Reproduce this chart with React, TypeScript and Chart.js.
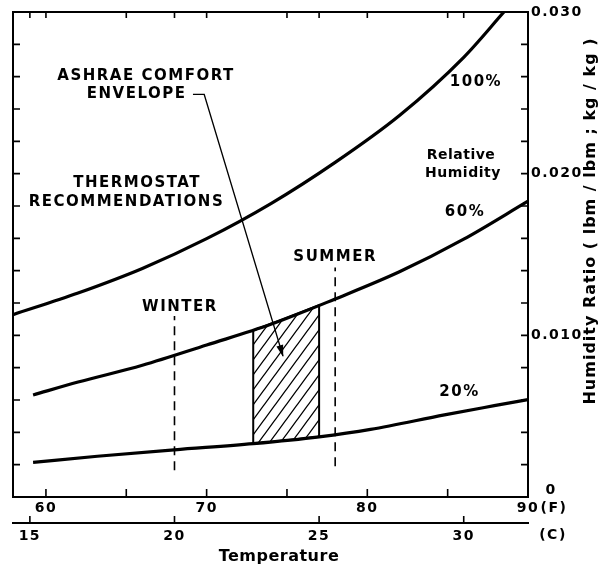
import React, { useEffect, useRef } from 'react';
import { Chart, registerables } from 'chart.js';

Chart.register(...registerables);

// Axis ranges
const F_MIN = 57.95;
const F_MAX = 90;
const W_MIN = 0;
const W_MAX = 0.03;

// Tick values
const F_TICKS = [60, 65, 70, 75, 80, 85];
const F_LABELS = [60, 70, 80, 90];
const C_TICKS = [15, 20, 25, 30];
const W_LABELS = [0, 0.01, 0.02, 0.03];
const W_MINOR = [0.002, 0.004, 0.006, 0.008, 0.01, 0.012, 0.014, 0.016, 0.018, 0.02, 0.022, 0.024, 0.026, 0.028];

// Relative humidity curves (temperature F, humidity ratio)
const RH100_F = [57.95, 62, 66, 70, 74, 78, 82, 86, 88.5];
const RH100_W = [0.01128, 0.01262, 0.01414, 0.01598, 0.01815, 0.0207, 0.0236, 0.0272, 0.03];
const RH60_F = [59.2, 62, 66, 70, 74, 78, 82, 86, 90];
const RH60_W = [0.00631, 0.00711, 0.00815, 0.0094, 0.01068, 0.01225, 0.01393, 0.01595, 0.0183];
const RH20_F = [59.2, 63.2, 68, 72.9, 77, 80.2, 84.8, 87.9, 90];
const RH20_W = [0.00214, 0.00252, 0.00292, 0.0033, 0.00372, 0.00418, 0.00508, 0.00565, 0.00603];

// ASHRAE comfort envelope
const ENV_F = [72.9, 77.0];
const ENV_TOP = [0.0103, 0.01187];
const ENV_BOTTOM = [0.0033, 0.00372];

// Thermostat recommendations (dashed)
const WINTER_F = 68.0;
const WINTER_W = [0.00165, 0.0112];
const SUMMER_F = 78.0;
const SUMMER_W = [0.0019, 0.0142];

// Leader line for envelope label
const LEADER_F = [69.15, 69.85, 74.75];
const LEADER_W = [0.0249, 0.0249, 0.00872];

// In-plot notes: text, F, W, size, spacing
const NOTES: [string, number, number, number, number][] = [
  ['ASHRAE COMFORT', 66.23, 0.02604, 15, 1.5],
  ['ENVELOPE', 65.64, 0.02493, 15, 1.5],
  ['THERMOSTAT', 65.67, 0.01942, 15, 1.5],
  ['RECOMMENDATIONS', 65.01, 0.01825, 15, 1.5],
  ['WINTER', 68.34, 0.01175, 15, 1.5],
  ['SUMMER', 78.0, 0.01485, 15, 1.5],
  ['100%', 86.76, 0.02567, 15, 1.5],
  ['60%', 86.08, 0.01763, 15, 1.5],
  ['20%', 85.74, 0.0065, 15, 1.5],
  ['Relative', 85.83, 0.02116, 14, 0.5],
  ['Humidity', 85.95, 0.02004, 14, 0.5],
];

const FONT = '"DejaVu Sans", sans-serif';

const pts = (xs: number[], ys: number[]) => xs.map((x, i) => ({ x, y: ys[i] }));

function makeHatch(): CanvasPattern | string {
  const c = document.createElement('canvas');
  const w = 11, h = 15;
  c.width = w; c.height = h;
  const g = c.getContext('2d');
  if (!g) return 'rgba(0,0,0,0)';
  g.strokeStyle = '#000';
  g.lineWidth = 1.3;
  g.beginPath();
  g.moveTo(-1, h + 1.4); g.lineTo(w + 1, -1.4);
  g.moveTo(-1 - w, h + 1.4); g.lineTo(1, -1.4);
  g.moveTo(w - 1, h + 1.4); g.lineTo(2 * w + 1, -1.4);
  g.stroke();
  const p = g.createPattern(c, 'repeat');
  return p || 'rgba(0,0,0,0)';
}

const annotPlugin = {
  id: 'annot',
  beforeDraw(chart: any) {
    const ctx = chart.ctx;
    ctx.save();
    ctx.fillStyle = '#fff';
    ctx.fillRect(0, 0, chart.width, chart.height);
    ctx.restore();
    ctx.letterSpacing = '1.5px';
  },
  afterDatasetsDraw(chart: any) {
    const ctx = chart.ctx;
    const meta = chart.getDatasetMeta(6);
    const n = meta.data.length;
    const a = meta.data[n - 2], b = meta.data[n - 1];
    const ang = Math.atan2(b.y - a.y, b.x - a.x);
    ctx.save();
    ctx.translate(b.x, b.y);
    ctx.rotate(ang);
    ctx.fillStyle = '#000';
    ctx.beginPath();
    ctx.moveTo(1, 0);
    ctx.lineTo(-11, -3.5);
    ctx.lineTo(-11, 3.5);
    ctx.closePath();
    ctx.fill();
    ctx.restore();
  },
  afterDraw(chart: any) {
    const { ctx, chartArea: ca, scales } = chart;
    const xs = scales.x, xc = scales.xc, ys = scales.y;
    ctx.save();
    ctx.strokeStyle = '#000';
    ctx.lineWidth = 1.6;
    ctx.beginPath();
    for (const f of F_TICKS) {
      const px = xs.getPixelForValue(f);
      ctx.moveTo(px, ca.bottom); ctx.lineTo(px, ca.bottom - 8);
      ctx.moveTo(px, ca.top); ctx.lineTo(px, ca.top + 6);
    }
    for (const c of C_TICKS) {
      const px = xc.getPixelForValue(c);
      ctx.moveTo(px, xc.top); ctx.lineTo(px, xc.top - 7);
      ctx.moveTo(px, ca.top); ctx.lineTo(px, ca.top + 6);
    }
    for (const w of W_MINOR) {
      const py = ys.getPixelForValue(w);
      ctx.moveTo(ca.left, py); ctx.lineTo(ca.left + 7, py);
      ctx.moveTo(ca.right, py); ctx.lineTo(ca.right - 7, py);
    }
    ctx.stroke();

    ctx.fillStyle = '#000';
    ctx.textAlign = 'center';
    ctx.textBaseline = 'middle';
    for (const [t, f, w, size, sp] of NOTES) {
      ctx.font = `bold ${size}px ${FONT}`;
      ctx.letterSpacing = `${sp}px`;
      ctx.fillText(t, xs.getPixelForValue(f), ys.getPixelForValue(w));
    }

    // axis side labels
    ctx.font = `bold 14px ${FONT}`;
    ctx.letterSpacing = '1.5px';
    ctx.fillText('0', ca.right + 23, ys.getPixelForValue(0) - 7);
    ctx.fillText('(F)', ca.right + 26, xs.top + 11);
    ctx.fillText('(C)', ca.right + 25, xc.top + 12);

    // axis titles
    ctx.font = `bold 16px ${FONT}`;
    ctx.letterSpacing = '0.5px';
    ctx.fillText('Temperature', xs.getPixelForValue(74.5), xc.top + 34);

    ctx.letterSpacing = '1px';
    ctx.translate(ys.right - 12, ys.getPixelForValue(0.01707));
    ctx.rotate(-Math.PI / 2);
    ctx.fillText('Humidity Ratio ( lbm / lbm ; kg / kg )', 0, 0);
    ctx.restore();
    ctx.letterSpacing = '0px';
  },
};

export default function App() {
  const ref = useRef<HTMLCanvasElement | null>(null);
  useEffect(() => {
    if (!ref.current) return;
    const hatch = makeHatch();
    const envData = [
      { x: ENV_F[0], y: ENV_TOP[0] },
      { x: ENV_F[1], y: ENV_TOP[1] },
      { x: ENV_F[1], y: ENV_BOTTOM[1] },
      { x: ENV_F[0], y: ENV_BOTTOM[0] },
      { x: ENV_F[0], y: ENV_TOP[0] },
    ];
    const tickFont = { family: FONT, weight: 'bold' as const, size: 14 };
    const chart = new Chart(ref.current, {
      type: 'line',
      data: {
        datasets: [
          { data: envData, borderColor: '#000', borderWidth: 2, backgroundColor: hatch as any, fill: 'shape' as any, tension: 0 },
          { data: pts(RH100_F, RH100_W), borderColor: '#000', borderWidth: 3.2, cubicInterpolationMode: 'monotone', fill: false },
          { data: pts(RH60_F, RH60_W), borderColor: '#000', borderWidth: 3.2, cubicInterpolationMode: 'monotone', fill: false },
          { data: pts(RH20_F, RH20_W), borderColor: '#000', borderWidth: 3.2, cubicInterpolationMode: 'monotone', fill: false },
          { data: pts([WINTER_F, WINTER_F], WINTER_W), borderColor: '#000', borderWidth: 1.6, borderDash: [9, 6], fill: false },
          { data: pts([SUMMER_F, SUMMER_F], SUMMER_W), borderColor: '#000', borderWidth: 1.6, borderDash: [9, 6], fill: false },
          { data: pts(LEADER_F, LEADER_W), borderColor: '#000', borderWidth: 1.3, fill: false, tension: 0 },
        ],
      },
      options: {
        animation: false,
        responsive: false,
        events: [],
        layout: { padding: 0 },
        elements: { point: { radius: 0 } },
        plugins: { legend: { display: false }, tooltip: { enabled: false } },
        scales: {
          x: {
            type: 'linear', position: 'bottom', weight: 1, min: F_MIN, max: F_MAX,
            grid: { display: false, drawTicks: false },
            border: { display: true, color: '#000', width: 2 },
            afterBuildTicks: (s: any) => { s.ticks = F_LABELS.map((v) => ({ value: v })); },
            afterFit: (s: any) => { s.height = 26; },
            ticks: { autoSkip: false, maxRotation: 0, padding: 3, color: '#000', font: tickFont, callback: (v: any) => String(v) },
          },
          xc: {
            type: 'linear', position: 'bottom', weight: 2,
            min: (F_MIN - 32) * 5 / 9, max: (F_MAX - 32) * 5 / 9,
            grid: { display: false, drawTicks: false },
            border: { display: true, color: '#000', width: 2 },
            afterBuildTicks: (s: any) => { s.ticks = C_TICKS.map((v) => ({ value: v })); },
            afterFit: (s: any) => { s.height = 50; },
            ticks: { autoSkip: false, maxRotation: 0, padding: 5, color: '#000', font: tickFont, callback: (v: any) => String(v) },
          },
          xt: {
            type: 'linear', position: 'top', min: F_MIN, max: F_MAX,
            grid: { display: false, drawTicks: false },
            border: { display: true, color: '#000', width: 2 },
            ticks: { display: false },
            afterFit: (s: any) => { s.height = 12; },
          },
          y: {
            type: 'linear', position: 'right', min: W_MIN, max: W_MAX,
            grid: { display: false, drawTicks: false },
            border: { display: true, color: '#000', width: 2 },
            afterBuildTicks: (s: any) => { s.ticks = W_LABELS.map((v) => ({ value: v })); },
            afterFit: (s: any) => { s.width = 75; },
            ticks: { autoSkip: false, padding: 3, color: '#000', font: { family: FONT, weight: 'bold' as const, size: 14 }, callback: (v: any) => (v === 0 ? '' : Number(v).toFixed(3)) },
          },
          yl: {
            type: 'linear', position: 'left', min: W_MIN, max: W_MAX,
            grid: { display: false, drawTicks: false },
            border: { display: true, color: '#000', width: 2 },
            ticks: { display: false },
            afterFit: (s: any) => { s.width = 13; },
          },
        },
      },
      plugins: [annotPlugin],
    } as any);
    return () => chart.destroy();
  }, []);
  return (
    <div style={{ position: 'fixed', left: 0, top: 0, width: 603, height: 573, background: '#fff' }}>
      <canvas ref={ref} width={603} height={573} style={{ display: 'block' }} />
    </div>
  );
}
